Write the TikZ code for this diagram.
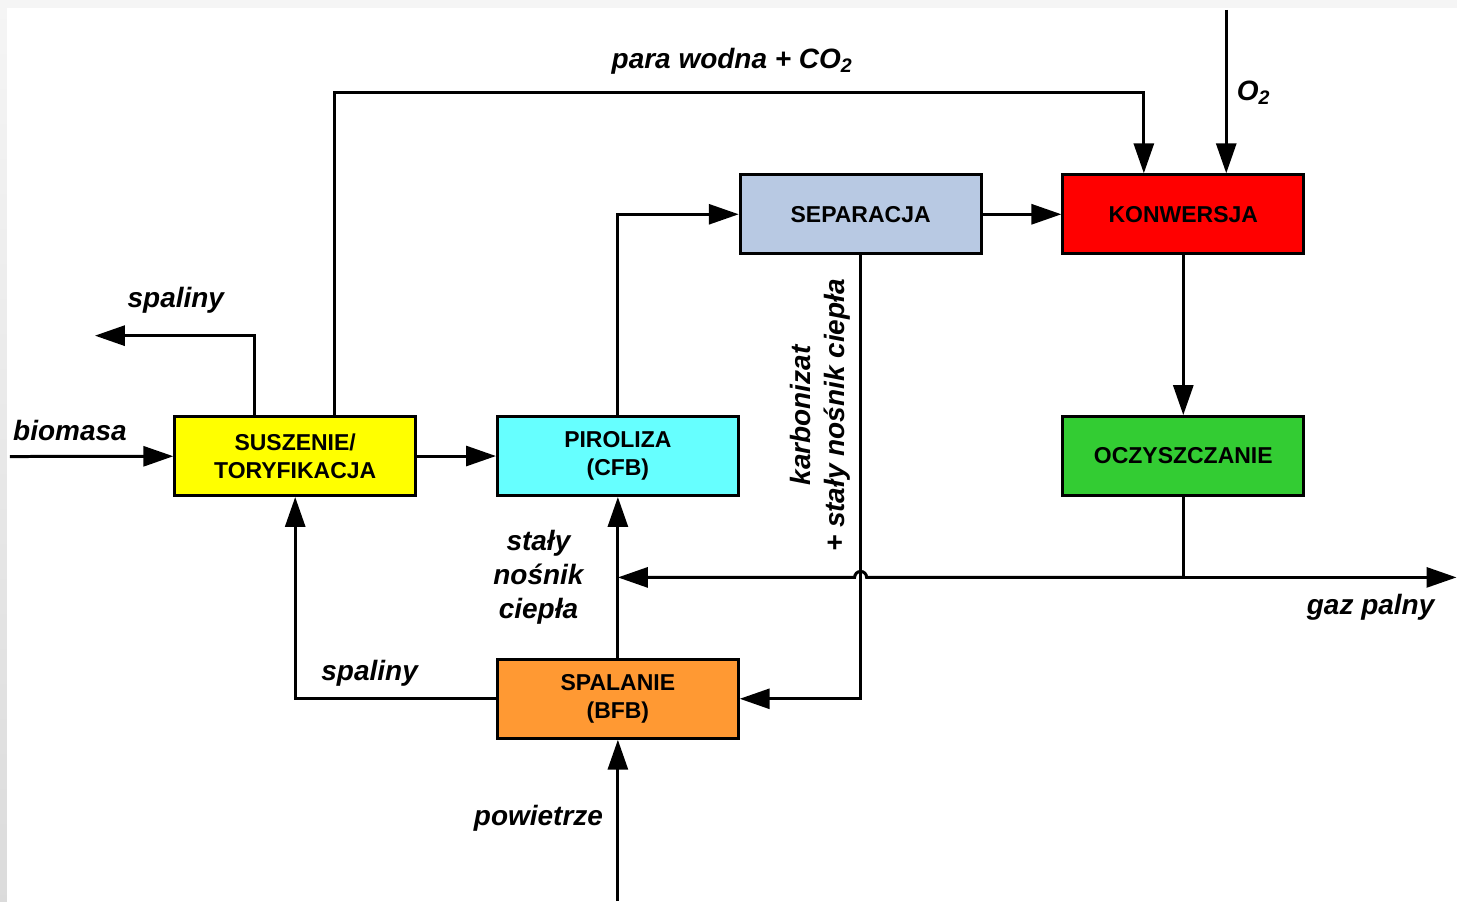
\documentclass[tikz,border=0pt]{standalone}
\usepackage{fontspec}
\setmainfont{Liberation Sans}
\usepackage{xcolor}
\usetikzlibrary{arrows.meta, positioning, calc}

\definecolor{suszkol}{RGB}{255,255,0}
\definecolor{pirkol}{RGB}{102,255,255}
\definecolor{sepkol}{RGB}{184,201,227}
\definecolor{konkol}{RGB}{255,0,0}
\definecolor{oczkol}{RGB}{51,204,51}
\definecolor{spalkol}{RGB}{255,153,51}

\tikzset{
  blok/.style={draw=black, line width=1.5pt, minimum width=120.5pt, minimum height=39.5pt,
    inner sep=0pt, align=center, font=\fontsize{11.5}{14}\selectfont\bfseries},
  opis/.style={font=\fontsize{14}{17}\selectfont\bfseries\itshape, align=center},
  strz/.style={line width=1.5pt, -{Triangle[length=15pt,width=10pt]}}
}

\begin{document}
\begin{tikzpicture}[x=0.5pt,y=0.5pt]
% tlo
\fill[gray!8] (0,0) rectangle (1458,-902);
\shade[top color=gray!8, bottom color=gray!28] (0,-8) rectangle (7,-902);
\fill[white] (7,-8) rectangle (1458,-902);

% Bloki
\node[blok, fill=suszkol] (susz) at (295.5,-456.5) {SUSZENIE/\\TORYFIKACJA};
\node[blok, fill=pirkol] (pir) at (618.5,-456.5) {PIROLIZA\\(CFB)};
\node[blok, fill=sepkol] (sep) at (861.5,-214.5) {SEPARACJA};
\node[blok, fill=konkol] (kon) at (1184.5,-214.5) {KONWERSJA};
\node[blok, fill=oczkol] (ocz) at (1184.5,-456.5) {OCZYSZCZANIE};
\node[blok, fill=spalkol] (spal) at (618.5,-699.5) {SPALANIE\\(BFB)};

% Punkty swobodne
\coordinate (bio) at (10,-457);
\coordinate (spal1) at (95,-336);
\coordinate (para) at (733,-93);
\coordinate (o2) at (1227.5,-10);
\coordinate (gaz) at (1458,-578);
\coordinate (pow) at (618.5,-902);
\coordinate (wez) at (ocz.south |- gaz);

% Polaczenia
\draw[strz] (bio) -- (susz);
\draw[strz] (susz) -- (pir);
\draw[strz] ($(susz.north)+(-40.5,0)$) |- (spal1);
\draw[strz] ($(susz.north)+(39.5,0)$) |- (para) -| ($(kon.north)+(-39.5,0)$);
\draw[strz] (o2) -- (o2 |- kon.north);
\draw[strz] (pir.north) |- (sep.west);
\draw[strz] (sep) -- (kon);
\draw[strz] (kon) -- (ocz);
\draw[strz] (sep.south) |- (spal.east);
\draw[strz] (spal) -- (pir);
\draw[strz] (spal.west) -| (susz.south);
\draw[strz] (pow) -- (spal.south);
\draw[strz] (ocz.south) -- (wez) -- (gaz);
\draw[strz] (wez) -- ($(sep.south |- gaz)+(6,0)$) arc[start angle=0, end angle=180, radius=3pt]
  -- (pir.south |- gaz);

% Opisy
\node[opis] (lbio) at (70,-431) {biomasa};
\node[opis] (lspal1) at (176,-301) {spaliny};
\node[opis] (lpara) at (733,-61) {para wodna + CO\textsubscript{2}};
\node[opis] (lo2) at (1255,-93) {O\textsubscript{2}};
\node[opis, rotate=90] (lkarb) at (821,-416) {karbonizat\\+ stały nośnik ciepła};
\node[opis] (lnos) at (539,-578) {stały\\nośnik\\ciepła};
\node[opis] (lspal2) at (370,-674) {spaliny};
\node[opis] (lpow) at (539,-819) {powietrze};
\node[opis] (lgaz) at (1372,-608) {gaz palny};
\end{tikzpicture}
\end{document}
